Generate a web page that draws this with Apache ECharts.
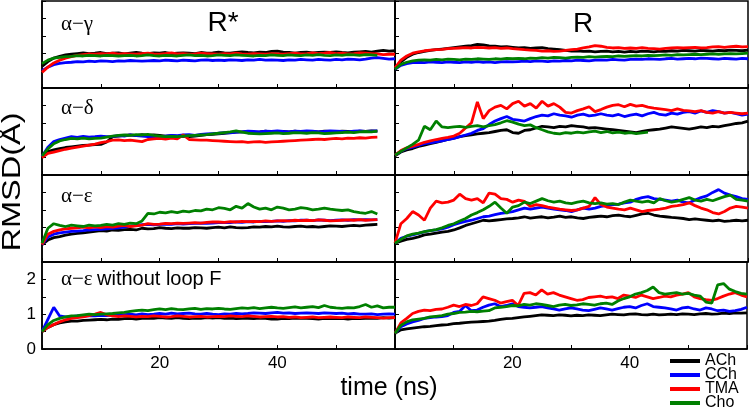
<!DOCTYPE html>
<html>
<head>
<meta charset="utf-8">
<title>RMSD</title>
<script src="https://cdn.jsdelivr.net/npm/echarts@6/dist/echarts.min.js"></script>
<style>
  html, body { margin: 0; padding: 0; background: #fff; }
  #chart { width: 750px; height: 411px; }
</style>
</head>
<body>
<div id="chart"></div>
<script>
// ---- data (time step 1 ns) ----
var T = [0,1,2,3,4,5,6,7,8,9,10,11,12,13,14,15,16,17,18,19,20,21,22,23,24,25,26,27,28,29,
  30,31,32,33,34,35,36,37,38,39,40,41,42,43,44,45,46,47,48,49,50,51,52,53,54,55,56,57,58,59,60];
var LIGANDS = ['ACh', 'CCh', 'TMA', 'Cho'];
var X_LABELS = [20, 40];
var Y_LABELS = [0, 1, 2];

// α−γ, R*
var gammaRs_ACh = [0.62,0.76,0.86,0.91,0.95,0.97,0.99,1.01,0.99,1.00,1.02,0.99,1.00,1.01,0.98,1.00,1.02,1.00,0.99,1.01,
  1.00,1.02,0.99,1.00,1.01,1.00,0.99,1.02,1.00,1.01,1.03,1.01,1.00,1.02,1.04,1.02,1.01,1.03,1.02,1.05,
  1.06,1.03,1.02,1.00,1.02,1.03,1.01,1.02,1.03,1.02,1.04,1.02,1.01,1.03,1.04,1.05,1.03,1.06,1.08,1.06,1.07];
var gammaRs_CCh = [0.50,0.60,0.67,0.71,0.73,0.74,0.76,0.75,0.77,0.76,0.78,0.77,0.76,0.78,0.77,0.79,0.78,0.77,0.78,0.79,
  0.78,0.80,0.79,0.78,0.80,0.79,0.78,0.80,0.81,0.79,0.80,0.79,0.81,0.80,0.79,0.81,0.80,0.82,0.80,0.81,
  0.80,0.79,0.81,0.80,0.82,0.81,0.80,0.82,0.81,0.80,0.82,0.81,0.83,0.82,0.81,0.83,0.86,0.87,0.85,0.83,0.84];
var gammaRs_TMA = [0.45,0.60,0.72,0.80,0.86,0.90,0.94,0.96,0.98,0.97,0.99,0.98,1.00,0.97,0.99,0.98,0.97,0.99,1.00,0.98,
  0.97,0.99,1.01,0.98,0.99,0.97,0.98,1.00,0.99,0.98,0.97,0.99,0.98,1.00,0.98,0.97,0.99,0.98,0.97,0.99,
  0.98,0.97,0.99,1.00,0.98,0.99,1.01,0.99,1.00,1.02,0.99,1.00,0.98,0.99,1.01,1.00,0.99,0.98,0.96,0.97,0.97];
var gammaRs_Cho = [0.70,0.80,0.86,0.88,0.90,0.91,0.93,0.92,0.94,0.93,0.92,0.94,0.93,0.92,0.93,0.94,0.92,0.93,0.95,0.93,
  0.92,0.94,0.93,0.92,0.94,0.95,0.93,0.94,0.92,0.93,0.95,0.94,0.93,0.95,0.94,0.93,0.92,0.94,0.93,0.95,
  0.94,0.93,0.95,0.94,0.93,0.95,0.94,0.96,0.94,0.93,0.95,0.94,0.96,0.95,0.94,0.96,0.95,0.94];

// α−γ, R
var gammaR_ACh = [0.54,0.75,0.88,0.97,1.02,1.05,1.08,1.10,1.12,1.14,1.16,1.18,1.20,1.22,1.25,1.24,1.21,1.20,1.18,1.19,
  1.17,1.15,1.16,1.14,1.15,1.16,1.13,1.12,1.10,1.08,1.06,1.07,1.05,1.06,1.04,1.05,1.06,1.04,1.05,1.03,
  1.05,1.04,1.06,1.05,1.04,1.06,1.05,1.07,1.06,1.08,1.07,1.06,1.08,1.07,1.06,1.08,1.07,1.09,1.08,1.07,1.09];
var gammaR_CCh = [0.54,0.65,0.70,0.73,0.74,0.73,0.75,0.74,0.73,0.75,0.74,0.73,0.75,0.74,0.76,0.74,0.75,0.73,0.75,0.76,
  0.75,0.76,0.77,0.76,0.78,0.77,0.76,0.78,0.77,0.79,0.78,0.80,0.79,0.78,0.80,0.81,0.80,0.82,0.81,0.80,
  0.82,0.83,0.82,0.84,0.83,0.82,0.84,0.85,0.83,0.84,0.85,0.84,0.86,0.85,0.84,0.83,0.85,0.84,0.83,0.85,0.84];
var gammaR_TMA = [0.58,0.80,0.92,1.00,1.04,1.07,1.09,1.10,1.11,1.13,1.14,1.15,1.16,1.15,1.17,1.16,1.15,1.16,1.14,1.15,
  1.13,1.12,1.10,1.09,1.08,1.06,1.07,1.05,1.06,1.08,1.10,1.12,1.15,1.18,1.22,1.20,1.17,1.15,1.16,1.14,
  1.15,1.14,1.16,1.14,1.13,1.12,1.14,1.15,1.16,1.15,1.16,1.17,1.15,1.16,1.18,1.19,1.17,1.19,1.20,1.18,1.19];
var gammaR_Cho = [0.54,0.68,0.74,0.78,0.80,0.81,0.80,0.82,0.81,0.83,0.82,0.81,0.83,0.82,0.84,0.83,0.82,0.84,0.83,0.85,
  0.84,0.85,0.84,0.86,0.85,0.87,0.86,0.88,0.87,0.86,0.88,0.89,0.88,0.90,0.89,0.90,0.91,0.90,0.92,0.91,
  0.92,0.93,0.92,0.94,0.93,0.94,0.95,0.94,0.96,0.95,0.96,0.97,0.96,0.97,0.98,0.97,0.98,0.99,0.98,0.99,1.00];

// α−δ, R*
var deltaRs_ACh = [0.53,0.67,0.72,0.76,0.79,0.81,0.83,0.85,0.86,0.87,0.88,0.95,1.10,1.12,1.14,1.15,1.13,1.16,1.14,1.15,
  1.14,1.12,1.13,1.11,1.12,1.10,1.12,1.14,1.16,1.17,1.18,1.20,1.22,1.23,1.24,1.25,1.23,1.24,1.26,1.24,
  1.23,1.25,1.24,1.26,1.24,1.23,1.25,1.24,1.26,1.25,1.24,1.26,1.25,1.24,1.26,1.25,1.27,1.26];
var deltaRs_CCh = [0.53,0.80,0.96,1.02,1.06,1.10,1.08,1.11,1.09,1.10,1.12,1.10,1.11,1.13,1.12,1.15,1.13,1.12,1.10,1.11,
  1.10,1.12,1.14,1.13,1.15,1.16,1.14,1.17,1.18,1.19,1.20,1.22,1.21,1.23,1.24,1.26,1.25,1.24,1.26,1.25,
  1.27,1.25,1.24,1.26,1.25,1.27,1.26,1.24,1.25,1.27,1.26,1.25,1.24,1.26,1.27,1.25,1.26,1.27];
var deltaRs_TMA = [0.50,0.62,0.66,0.70,0.74,0.77,0.80,0.83,0.86,0.89,0.93,0.96,1.00,1.01,0.99,1.00,0.98,0.96,1.02,1.04,
  1.05,1.03,1.06,1.04,1.15,1.02,1.01,1.00,1.00,0.99,0.98,0.97,0.96,0.95,0.96,0.94,0.95,0.96,0.94,0.95,
  0.96,0.97,0.98,0.99,1.00,1.01,1.02,1.03,1.02,1.04,1.05,1.04,1.06,1.05,1.07,1.06,1.08,1.09];
var deltaRs_Cho = [0.55,0.75,0.90,0.98,1.02,1.05,1.04,1.06,1.04,1.05,1.06,1.09,1.12,1.14,1.15,1.14,1.16,1.15,1.17,1.14,
  1.12,1.10,1.11,1.10,1.12,1.13,1.14,1.15,1.16,1.18,1.20,1.22,1.24,1.27,1.23,1.20,1.19,1.18,1.19,1.20,
  1.21,1.19,1.20,1.22,1.21,1.20,1.22,1.21,1.19,1.20,1.21,1.22,1.23,1.22,1.24,1.25,1.24,1.26];

// α−δ, R
var deltaR_ACh = [0.55,0.66,0.72,0.76,0.82,0.86,0.90,0.94,0.98,1.02,1.06,1.10,1.13,1.15,1.18,1.20,1.22,1.25,1.28,1.30,
  1.22,1.20,1.28,1.30,1.35,1.40,1.38,1.36,1.40,1.38,1.42,1.40,1.38,1.35,1.36,1.34,1.32,1.30,1.28,1.26,
  1.24,1.22,1.25,1.28,1.30,1.32,1.35,1.38,1.36,1.34,1.32,1.35,1.38,1.36,1.40,1.38,1.42,1.45,1.48,1.50,1.55];
var deltaR_CCh = [0.57,0.68,0.76,0.80,0.85,0.90,0.92,0.95,0.98,1.02,1.05,1.10,1.15,1.20,1.28,1.33,1.45,1.55,1.62,1.68,
  1.60,1.58,1.55,1.62,1.68,1.72,1.70,1.76,1.72,1.70,1.66,1.72,1.75,1.70,1.72,1.76,1.72,1.70,1.74,1.68,
  1.72,1.75,1.70,1.76,1.80,1.74,1.72,1.78,1.75,1.80,1.82,1.78,1.84,1.80,1.85,1.82,1.78,1.80,1.76,1.72,1.75];
var deltaR_TMA = [0.57,0.70,0.78,0.83,0.88,0.94,0.98,1.02,1.05,1.08,1.12,1.20,1.35,1.50,2.10,1.62,1.85,1.95,2.00,1.90,
  2.05,2.12,1.98,2.05,1.92,2.12,1.98,2.05,1.95,1.80,1.78,1.85,1.90,1.96,1.82,1.88,1.95,2.00,2.02,1.96,
  2.03,1.98,2.00,1.95,1.92,1.90,1.88,1.85,1.90,1.86,1.84,1.82,1.85,1.80,1.78,1.82,1.78,1.80,1.78,1.76,1.78];
var deltaR_Cho = [0.57,0.68,0.78,0.88,1.00,1.40,1.30,1.55,1.38,1.36,1.38,1.40,1.37,1.40,1.42,1.38,1.42,1.45,1.50,1.56,
  1.52,1.46,1.42,1.44,1.36,1.30,1.24,1.20,1.18,1.22,1.20,1.23,1.21,1.24,1.26,1.22,1.25,1.21,1.23,1.20,
  1.22,1.19,1.21,1.23];

// α−ε, R*
var epsRs_ACh = [0.50,0.63,0.70,0.73,0.77,0.80,0.82,0.84,0.86,0.88,0.90,0.89,0.92,0.91,0.93,0.94,0.92,0.97,0.95,0.96,
  0.99,0.97,0.96,0.98,0.97,0.97,0.99,0.98,0.97,0.99,1.00,0.98,1.01,0.99,0.98,0.99,1.01,1.00,1.02,1.01,
  1.03,1.01,1.00,1.02,1.03,1.01,1.02,1.00,1.02,1.04,1.03,1.02,1.04,1.05,1.04,1.06,1.07,1.08];
var epsRs_CCh = [0.50,0.72,0.80,0.84,0.86,0.88,0.89,0.90,0.92,0.93,0.94,0.95,0.97,0.98,1.00,1.03,1.05,1.07,1.08,1.07,
  1.08,1.09,1.08,1.10,1.09,1.10,1.11,1.12,1.11,1.12,1.13,1.14,1.13,1.15,1.14,1.16,1.15,1.17,1.16,1.17,
  1.18,1.17,1.19,1.18,1.20,1.20,1.19,1.21,1.20,1.19,1.20,1.21,1.20,1.22,1.21,1.22,1.21,1.22];
var epsRs_TMA = [0.50,0.80,0.88,0.92,0.95,0.97,0.98,1.00,0.98,1.01,0.99,1.02,1.00,1.03,1.05,1.02,1.04,1.06,1.10,1.08,
  1.09,1.11,1.10,1.12,1.11,1.12,1.13,1.12,1.14,1.15,1.15,1.14,1.16,1.15,1.17,1.16,1.17,1.16,1.18,1.17,
  1.18,1.19,1.18,1.20,1.19,1.20,1.19,1.21,1.20,1.18,1.19,1.20,1.21,1.20,1.22,1.20,1.21,1.22];
var epsRs_Cho = [0.54,0.97,1.10,1.05,1.02,1.06,1.04,1.02,1.06,1.04,1.05,1.08,1.06,1.10,1.08,1.12,1.10,1.18,1.40,1.38,
  1.43,1.41,1.45,1.42,1.46,1.44,1.48,1.47,1.52,1.50,1.56,1.54,1.50,1.60,1.55,1.68,1.58,1.52,1.55,1.50,
  1.58,1.55,1.50,1.52,1.56,1.54,1.50,1.52,1.55,1.52,1.50,1.48,1.50,1.45,1.42,1.40,1.45,1.38];

// α−ε, R
var epsR_ACh = [0.54,0.60,0.65,0.68,0.72,0.78,0.80,0.83,0.86,0.88,0.92,0.98,1.05,1.10,1.15,1.20,1.18,1.20,1.22,1.24,
  1.25,1.27,1.30,1.26,1.28,1.30,1.27,1.29,1.32,1.28,1.30,1.27,1.25,1.28,1.30,1.32,1.30,1.33,1.35,1.32,
  1.30,1.34,1.38,1.40,1.35,1.32,1.30,1.28,1.27,1.25,1.22,1.24,1.22,1.20,1.18,1.20,1.17,1.18,1.20,1.18,1.20];
var epsR_CCh = [0.54,0.68,0.74,0.78,0.82,0.87,0.90,0.92,0.95,1.00,1.07,1.12,1.17,1.20,1.25,1.30,1.32,1.36,1.40,1.42,
  1.45,1.50,1.55,1.52,1.55,1.58,1.55,1.52,1.50,1.48,1.45,1.50,1.55,1.52,1.55,1.60,1.62,1.65,1.66,1.70,
  1.72,1.80,1.85,1.88,1.82,1.80,1.78,1.75,1.78,1.72,1.70,1.78,1.85,1.90,2.00,2.08,1.98,1.92,1.88,1.82,1.80];
var epsR_TMA = [0.54,1.10,1.25,1.45,1.35,1.20,1.55,1.75,1.70,1.72,1.78,1.95,1.82,1.78,1.82,1.70,1.98,1.95,1.82,1.80,
  1.72,1.78,1.74,1.60,1.65,1.62,1.58,1.55,1.52,1.50,1.48,1.50,1.55,1.60,1.85,1.65,1.58,1.55,1.52,1.50,
  1.55,1.50,1.45,1.48,1.50,1.52,1.55,1.60,1.62,1.65,1.70,1.62,1.55,1.50,1.42,1.38,1.45,1.55,1.60,1.58,1.55];
var epsR_Cho = [0.54,0.65,0.75,0.80,0.83,0.87,0.90,0.93,0.98,1.05,1.10,1.18,1.25,1.35,1.42,1.50,1.60,1.72,1.55,1.40,
  1.58,1.62,1.72,1.68,1.75,1.82,1.76,1.72,1.75,1.70,1.68,1.72,1.75,1.70,1.68,1.70,1.66,1.68,1.65,1.72,
  1.78,1.75,1.72,1.75,1.70,1.82,1.76,1.72,1.75,1.80,1.85,1.78,1.75,1.80,1.76,1.82,1.88,1.92,1.80,1.78,1.75];

// α−ε without loop F, R*
var epsNoFRs_ACh = [0.50,0.62,0.70,0.75,0.78,0.80,0.80,0.82,0.83,0.84,0.85,0.84,0.86,0.85,0.87,0.88,0.86,0.88,0.89,0.88,
  0.90,0.89,0.88,0.90,0.88,0.87,0.89,0.88,0.90,0.89,0.90,0.88,0.89,0.87,0.88,0.88,0.87,0.89,0.88,0.86,
  0.86,0.88,0.87,0.89,0.88,0.88,0.87,0.86,0.88,0.87,0.87,0.88,0.86,0.88,0.87,0.88,0.89,0.88,0.90,0.89,0.90];
var epsNoFRs_CCh = [0.50,0.85,1.20,0.95,0.92,0.93,0.95,0.94,0.96,0.95,0.97,0.96,0.98,0.97,0.99,1.00,0.98,1.01,0.99,1.00,
  1.02,1.00,1.03,1.01,1.02,1.03,1.01,1.00,1.02,1.00,0.99,1.01,1.00,1.02,1.01,1.02,1.04,1.03,1.02,1.04,
  1.05,1.03,1.04,1.02,1.03,1.04,1.03,1.02,1.04,1.03,1.02,1.03,1.01,1.02,1.00,1.00,1.01,0.99,1.00,1.01,1.00];
var epsNoFRs_TMA = [0.50,0.62,0.70,0.78,0.84,0.88,0.90,0.92,0.96,1.00,1.05,0.98,0.95,0.93,0.95,0.94,0.92,0.94,0.93,0.95,
  0.94,0.92,0.93,0.95,0.94,0.92,0.93,0.94,0.92,0.93,0.94,0.93,0.95,0.94,0.93,0.95,0.94,0.92,0.93,0.94,
  0.92,0.93,0.91,0.92,0.90,0.91,0.92,0.90,0.91,0.92,0.91,0.90,0.92,0.91,0.90,0.92,0.91,0.90,0.89,0.90,0.90];
var epsNoFRs_Cho = [0.50,0.70,0.82,0.88,0.92,0.95,0.96,0.98,1.00,0.99,1.00,1.01,1.02,1.04,1.05,1.08,1.10,1.12,1.10,1.13,
  1.15,1.13,1.16,1.14,1.13,1.15,1.17,1.14,1.16,1.15,1.17,1.15,1.14,1.16,1.18,1.17,1.19,1.16,1.18,1.20,
  1.18,1.17,1.19,1.21,1.18,1.20,1.22,1.19,1.25,1.20,1.18,1.17,1.19,1.18,1.22,1.28,1.20,1.24,1.18,1.20,1.20];

// α−ε without loop F, R
var epsNoFR_ACh = [0.45,0.55,0.58,0.60,0.62,0.64,0.65,0.67,0.69,0.70,0.73,0.74,0.76,0.77,0.78,0.79,0.80,0.82,0.85,0.87,
  0.88,0.90,0.92,0.94,0.96,0.98,0.97,0.96,0.98,0.97,0.95,0.97,0.96,0.98,0.97,0.96,0.98,1.00,0.99,0.98,
  1.00,1.01,0.99,0.98,1.00,0.98,0.99,1.00,0.99,1.01,1.00,0.99,1.01,1.02,1.00,1.01,1.03,1.02,1.04,1.03,1.04];
var epsNoFR_CCh = [0.45,0.64,0.72,0.78,0.82,0.88,0.90,0.92,0.93,0.96,1.05,1.08,1.25,1.10,1.12,1.20,1.26,1.30,1.22,1.25,
  1.30,1.22,1.20,1.18,1.20,1.22,1.18,1.15,1.12,1.15,1.18,1.15,1.12,1.10,1.14,1.18,1.15,1.12,1.16,1.20,
  1.22,1.18,1.25,1.30,1.22,1.20,1.18,1.15,1.12,1.18,1.20,1.15,1.12,1.18,1.15,1.10,1.12,1.08,1.10,1.14,1.20];
var epsNoFR_TMA = [0.45,0.75,0.88,1.02,1.08,1.12,1.10,1.14,1.15,1.20,1.26,1.22,1.28,1.25,1.30,1.50,1.45,1.40,1.32,1.36,
  1.40,1.25,1.60,1.62,1.55,1.70,1.58,1.62,1.55,1.50,1.45,1.40,1.42,1.48,1.50,1.52,1.48,1.50,1.45,1.55,
  1.52,1.48,1.55,1.50,1.45,1.48,1.52,1.50,1.55,1.58,1.62,1.50,1.45,1.42,1.40,1.45,1.52,1.58,1.62,1.55,1.50];
var epsNoFR_Cho = [0.45,0.68,0.78,0.84,0.86,0.88,0.92,0.94,0.96,1.00,1.02,1.05,1.06,1.08,1.07,1.09,1.10,1.18,1.20,1.22,
  1.25,1.24,1.28,1.26,1.30,1.28,1.25,1.22,1.26,1.28,1.25,1.27,1.30,1.28,1.26,1.30,1.32,1.28,1.38,1.45,
  1.50,1.58,1.62,1.68,1.78,1.62,1.58,1.60,1.62,1.58,1.60,1.55,1.52,1.35,1.32,1.84,1.88,1.72,1.65,1.60,1.58];

(function () {
  'use strict';

  var COLORS = ['#000000', '#0000ff', '#ff0000', '#008000'];
  var SANS = '"Liberation Sans", Arial, sans-serif';
  var SERIF = '"Liberation Serif", "Times New Roman", serif';

  // rows: α−γ, α−δ, α−ε, α−ε without loop F ; columns: R*, R
  var panels = [
    [[gammaRs_ACh, gammaRs_CCh, gammaRs_TMA, gammaRs_Cho], [gammaR_ACh, gammaR_CCh, gammaR_TMA, gammaR_Cho]],
    [[deltaRs_ACh, deltaRs_CCh, deltaRs_TMA, deltaRs_Cho], [deltaR_ACh, deltaR_CCh, deltaR_TMA, deltaR_Cho]],
    [[epsRs_ACh, epsRs_CCh, epsRs_TMA, epsRs_Cho], [epsR_ACh, epsR_CCh, epsR_TMA, epsR_Cho]],
    [[epsNoFRs_ACh, epsNoFRs_CCh, epsNoFRs_TMA, epsNoFRs_Cho], [epsNoFR_ACh, epsNoFR_CCh, epsNoFR_TMA, epsNoFR_Cho]]
  ];

  var rowTop = [1, 88, 175, 262];
  var rowH = 87;
  var colLeft = [42, 395];
  var colW = 353;

  var grids = [], xAxes = [], yAxes = [], series = [];

  panels.forEach(function (row, r) {
    row.forEach(function (sets, c) {
      var idx = grids.length;
      grids.push({
        left: colLeft[c], top: rowTop[r], width: colW, height: rowH,
        show: true, borderColor: '#000', borderWidth: 1.5, containLabel: false
      });
      xAxes.push({
        gridIndex: idx, type: 'value', min: 0, max: 60, interval: 10,
        axisLine: { show: true, lineStyle: { color: '#000', width: 1.5 } },
        axisTick: { show: true, inside: true, length: 4, lineStyle: { color: '#000', width: 1 } },
        splitLine: { show: false },
        axisLabel: {
          show: r === 3, color: '#000', fontSize: 17, fontFamily: SANS, margin: 6,
          formatter: function (v) { return X_LABELS.indexOf(v) >= 0 ? String(v) : ''; }
        }
      });
      yAxes.push({
        gridIndex: idx, type: 'value', min: 0, max: 2.5, interval: 0.5,
        axisLine: { show: true, lineStyle: { color: '#000', width: 1.5 } },
        axisTick: { show: true, inside: true, length: 4, lineStyle: { color: '#000', width: 1 } },
        splitLine: { show: false },
        axisLabel: {
          show: r === 3 && c === 0, color: '#000', fontSize: 17, fontFamily: SANS, margin: 6,
          formatter: function (v) { return Y_LABELS.indexOf(v) >= 0 ? String(v) : ''; }
        }
      });
      sets.forEach(function (vals, k) {
        series.push({
          name: LIGANDS[k], type: 'line', xAxisIndex: idx, yAxisIndex: idx,
          symbol: 'none', showSymbol: false, clip: true,
          color: COLORS[k],
          lineStyle: { color: COLORS[k], width: 2.8 },
          data: vals.map(function (v, i) { return [T[i], v]; })
        });
      });
    });
  });

  function label(text, x, y, font, align) {
    return {
      type: 'text', x: x, y: y, silent: true,
      style: { text: text, font: font, fill: '#000', align: align || 'left', verticalAlign: 'middle' }
    };
  }

  var chart = echarts.init(document.getElementById('chart'), null, { renderer: 'canvas' });
  chart.setOption({
    animation: false,
    backgroundColor: '#fff',
    grid: grids,
    xAxis: xAxes,
    yAxis: yAxes,
    series: series,
    legend: {
      data: LIGANDS, orient: 'vertical', left: 670, top: 353, height: 80, padding: 0,
      icon: 'rect', itemWidth: 30, itemHeight: 4, itemGap: -2,
      textStyle: { color: '#000', fontSize: 16, fontFamily: SANS, lineHeight: 16 }
    },
    graphic: [
      label('R*', 223, 23, '28px ' + SANS, 'center'),
      label('R', 583, 24, '28px ' + SANS, 'center'),
      label('α−γ', 61, 24, '21px ' + SERIF),
      label('α−δ', 61, 108, '21px ' + SERIF),
      label('α−ε', 61, 196, '21px ' + SERIF),
      label('α−ε', 61, 279, '21px ' + SERIF),
      label('without loop F', 97, 279, '20px ' + SANS),
      label('time (ns)', 389, 388, '25px ' + SANS, 'center'),
      {
        type: 'text', x: 13, y: 182, rotation: Math.PI / 2, scaleX: 1.25, silent: true,
        style: { text: 'RMSD(Å)', font: '26px ' + SANS, fill: '#000', align: 'center', verticalAlign: 'middle' }
      }
    ]
  });
})();
</script>
</body>
</html>
